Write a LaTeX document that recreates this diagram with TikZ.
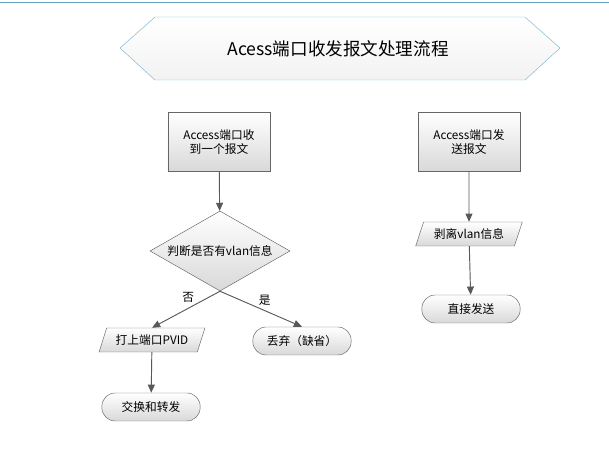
\documentclass[tikz,border=0pt]{standalone}
\usepackage{fontspec}
\setmainfont{Noto Sans CJK SC}
\usetikzlibrary{shapes.geometric,arrows.meta}
\begin{document}
\begin{tikzpicture}[x=0.03cm,y=-0.03cm,font=\fontsize{10}{12}\selectfont,
  >={Triangle[width=6pt,length=7pt]}]

\tikzstyle{block} = [draw=gray!80!black, top color=white, bottom color=black!15,
	rectangle, minimum height=1.77cm, minimum width=3.06cm, align=center];
\tikzstyle{decide} = [draw=gray!80!black, top color=white, bottom color=black!15,
	diamond, aspect=1.75, inner sep=0pt, minimum width=4.2cm, minimum height=2.4cm];
\tikzstyle{io} = [draw=gray!80!black, top color=white, bottom color=black!15,
	trapezium, trapezium left angle=70, trapezium right angle=110,
	minimum height=0.72cm, minimum width=3.2cm, trapezium stretches=true];
\tikzstyle{term} = [draw=gray!80!black, top color=white, bottom color=black!15,
	rectangle, rounded corners=0.4cm, minimum height=0.84cm, minimum width=2.95cm];
\tikzstyle{flow} = [->, draw=black!65, thick];

\useasboundingbox (0,0) rectangle (609,458);
\draw[cyan!50!gray] (0,2) -- (609,2);

\draw[draw=cyan!50!gray!80, top color=white, bottom color=black!5]
  (120,48) -- (155,17) -- (525,17) -- (560,48) -- (525,80) -- (155,80) -- cycle;
\node[font=\fontsize{15}{18}\selectfont] (title) at (338,49) {Acess端口收发报文处理流程};

\node[block] (recv) at (219,142) {Access端口收\\到一个报文};
\node[decide] (judge) at (220,251) {判断是否有vlan信息};
\node[io] (tag) at (152,340) {打上端口PVID};
\node[term] (drop) at (302,341) {丢弃（缺省）};
\node[term] (fwd) at (151,407) {交换和转发};

\node[block] (send) at (469,142) {Access端口发\\送报文};
\node[io] (strip) at (469,234) {剥离vlan信息};
\node[term] (out) at (471,309) {直接发送};

\draw[flow] (recv) -- (judge);
\draw[flow] (judge.south) -- (tag.north) node[pos=0.35, above left=-2pt] (no) {否};
\draw[flow] (judge.south) -- (drop.north) node[pos=0.45, above right=-2pt] (yes) {是};
\draw[flow] (tag) -- (fwd);
\draw[flow] (send) -- (strip);
\draw[flow] (strip) -- (out);

\end{tikzpicture}
\end{document}
